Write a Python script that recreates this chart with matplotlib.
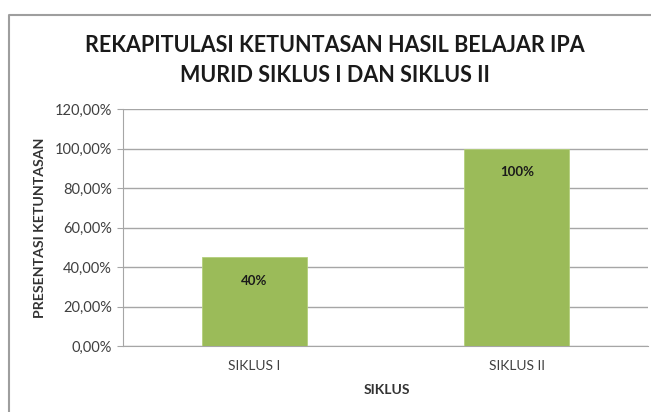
import matplotlib
matplotlib.use("Agg")
import matplotlib.pyplot as plt
from matplotlib.ticker import FuncFormatter
from matplotlib.lines import Line2D

categories = ["SIKLUS I", "SIKLUS II"]
values = [45, 100]
bar_labels = ["40%", "100%"]
yticks = [0, 20, 40, 60, 80, 100, 120]

plt.rcParams['font.family'] = ['Lato', 'DejaVu Sans']

W, H = 651, 412
fig = plt.figure(figsize=(W/100, H/100), dpi=100)
ax = fig.add_axes([123/W, 1-346/H, (648-123)/W, (346-109)/H])

x = list(range(len(categories)))
bars = ax.bar(x, values, width=0.4, color="#9BBB59", edgecolor="#B4CF7C", linewidth=0.6, zorder=3)
for b, lab in zip(bars, bar_labels):
    ax.annotate(lab, (b.get_x()+b.get_width()/2, b.get_height()), xytext=(0, -24),
                textcoords="offset pixels",
                ha="center", va="center", fontsize=9.5, fontweight="bold", color="#1a1a1a", zorder=4)

ax.set_xlim(-0.5, 1.5)
ax.set_ylim(0, 120)
ax.set_yticks(yticks)
ax.yaxis.set_major_formatter(FuncFormatter(lambda v, p: f"{v:.2f}%".replace(".", ",")))
ax.set_xticks(x)
ax.set_xticklabels(categories)
ax.grid(axis="y", color="#A6A6A6", linewidth=1.0, zorder=0)
for s in ["top", "right"]:
    ax.spines[s].set_visible(False)
ax.spines["left"].set_color("#A6A6A6")
ax.spines["bottom"].set_color("#A6A6A6")
ax.tick_params(axis="y", length=4, color="#A6A6A6", labelsize=10.5, labelcolor="#404040", pad=4)
ax.tick_params(axis="x", length=0, labelsize=10, labelcolor="#404040", pad=10)

fig.text(387/W, 1-390/H, "SIKLUS", ha="center", va="center", fontsize=10, fontweight="bold", color="#333333")
fig.text(40/W, 1-228/H, "PRESENTASI KETUNTASAN", ha="center", va="center", rotation=90,
         fontsize=10.2, fontweight="bold", color="#333333")
fig.text(335/W, 1-45/H, "REKAPITULASI KETUNTASAN HASIL BELAJAR IPA", ha="center", va="center",
         fontsize=15.5, fontweight="bold", color="#1a1a1a")
fig.text(335/W, 1-75/H, "MURID SIKLUS I DAN SIKLUS II", ha="center", va="center",
         fontsize=15.5, fontweight="bold", color="#1a1a1a")

fig.add_artist(Line2D([8.5/W, 8.5/W, 1], [0, 1-14.5/H, 1-14.5/H], transform=fig.transFigure,
                      color="#9E9E9E", linewidth=1.5))

fig.savefig("out.png", dpi=100)
